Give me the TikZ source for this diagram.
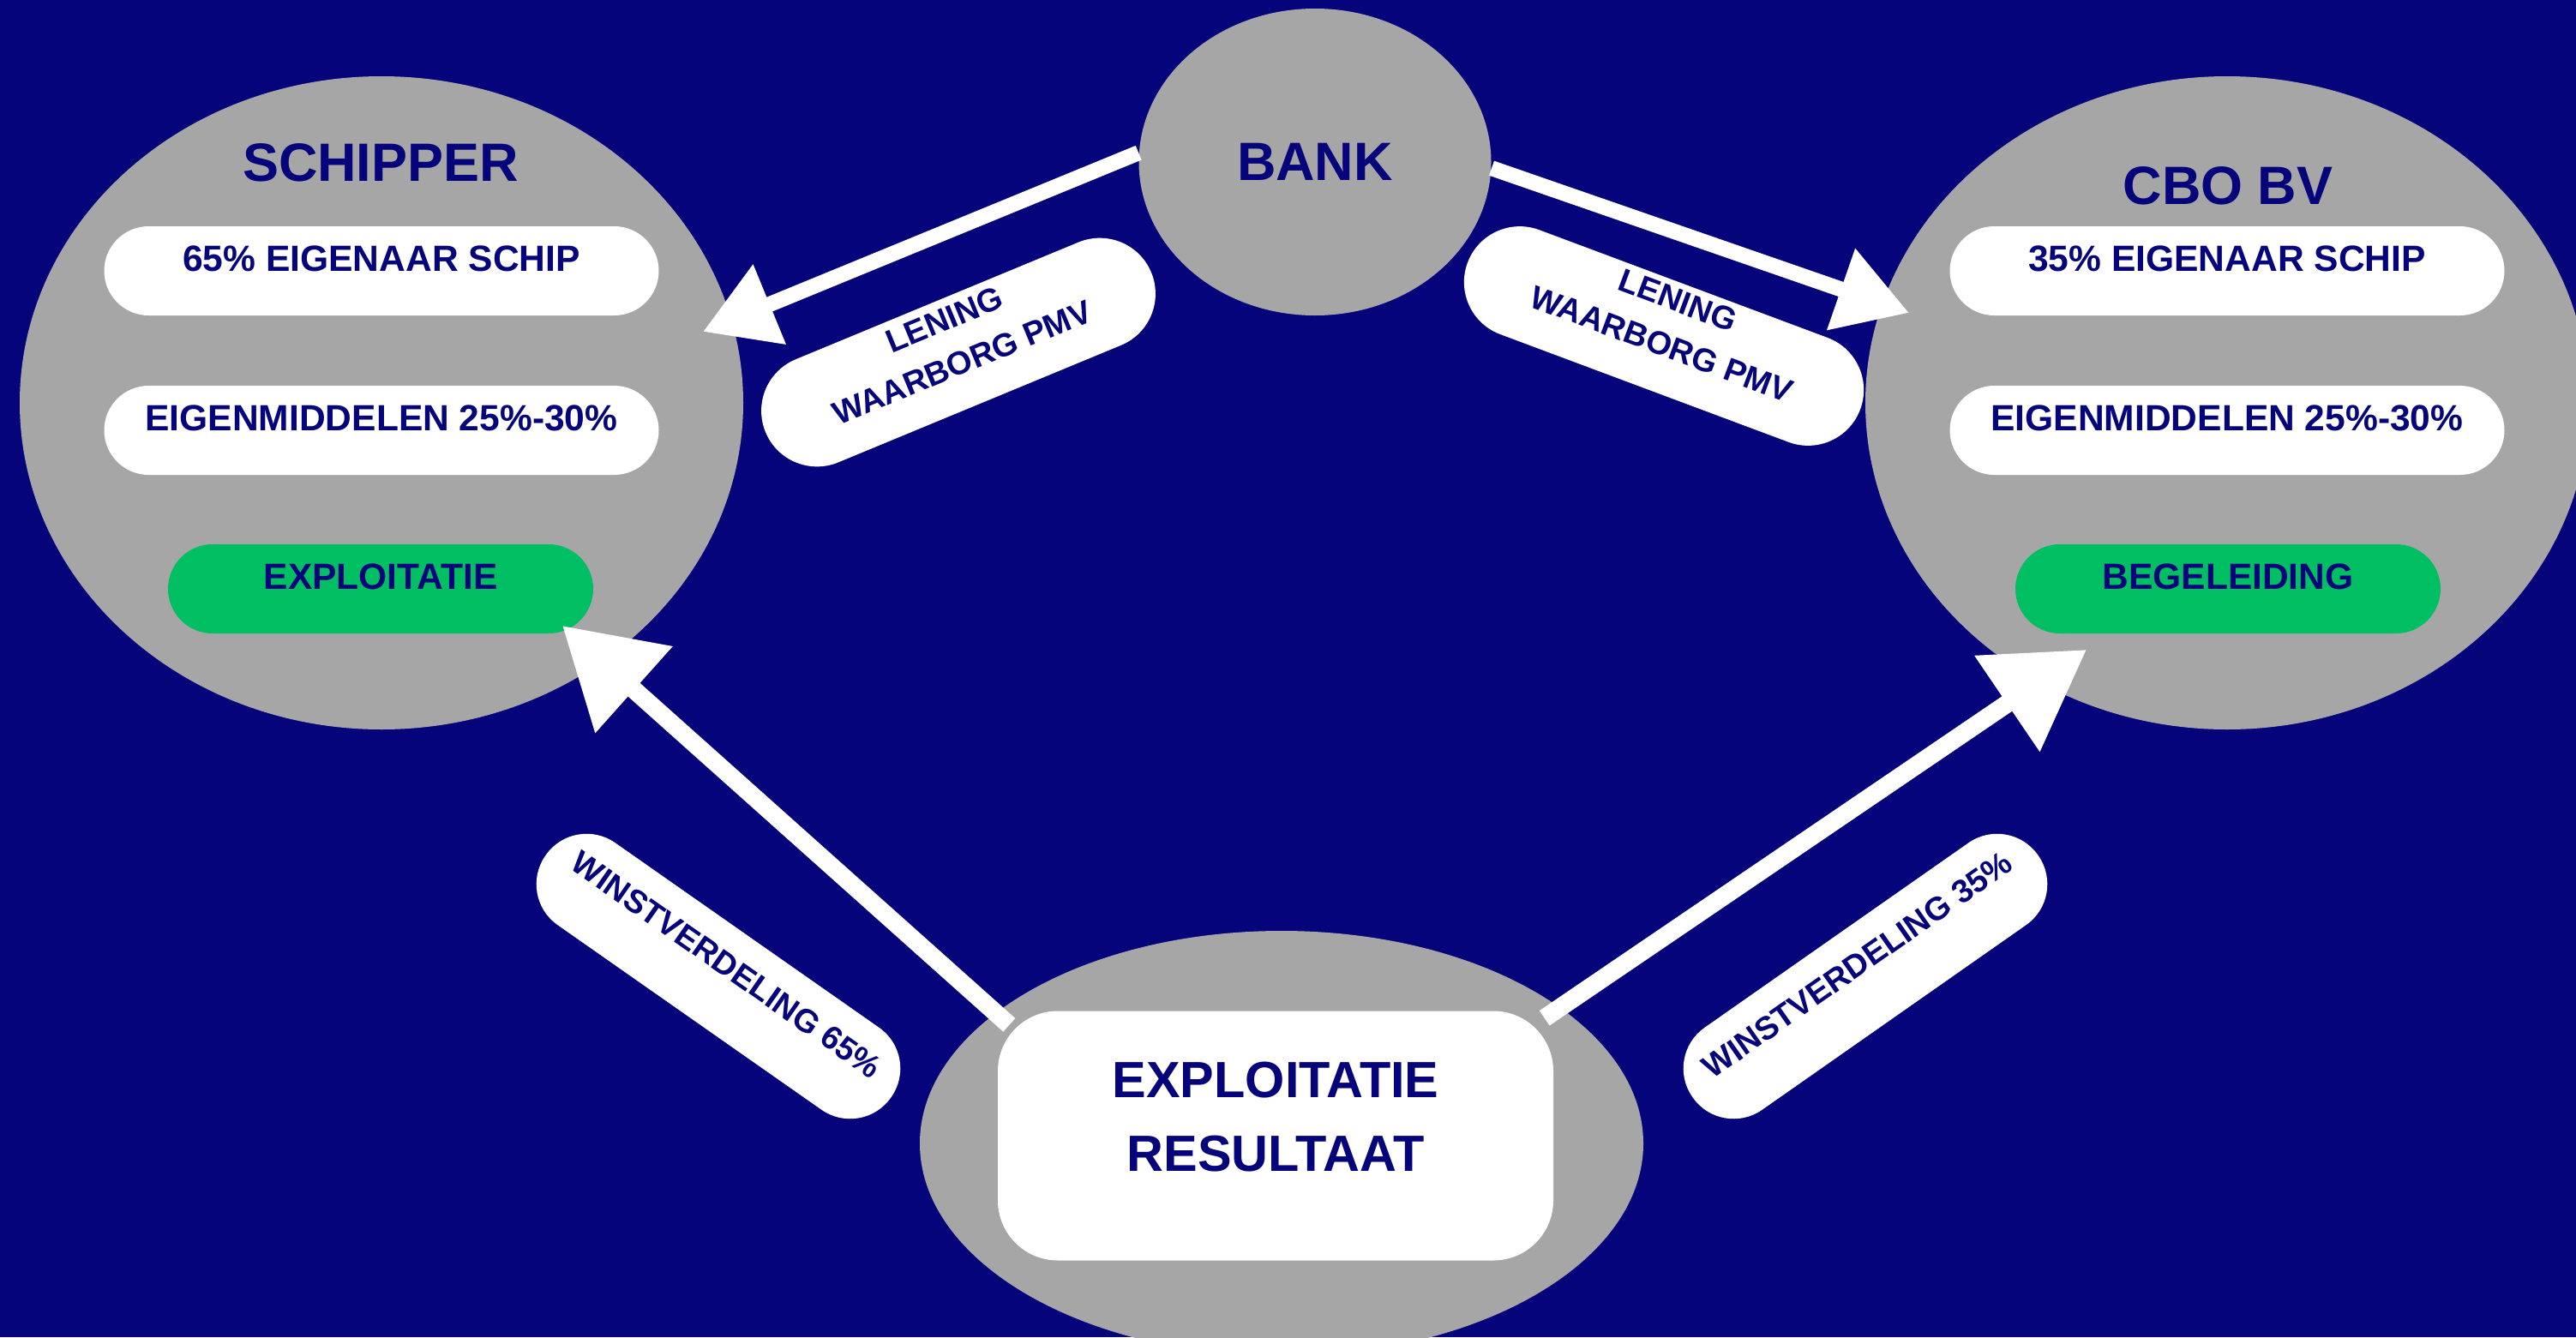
\documentclass[tikz,border=0pt]{standalone}
\usepackage{fontspec}
\setmainfont{Liberation Sans}
\usetikzlibrary{shapes.geometric,arrows.meta}

\newlength{\du}
\setlength{\du}{0.01cm}

\definecolor{bgnavy}{RGB}{5,4,123}
\definecolor{blobgray}{RGB}{166,166,166}
\definecolor{okgreen}{RGB}{0,191,99}

\tikzset{
  blob/.style={ellipse, fill=blobgray, inner sep=0pt, minimum width=844\du, minimum height=762\du},
  title/.style={text=bgnavy, font=\bfseries\fontsize{17.9}{21}\selectfont},
  rowbox/.style={rectangle, fill=white, rounded corners=52\du, inner sep=0pt,
    minimum width=647\du, minimum height=104\du, text height=25\du, text depth=25\du,
    text=bgnavy, font=\bfseries\fontsize{12.1}{14}\selectfont},
  greenbox/.style={rowbox, fill=okgreen, minimum width=496\du},
  pill/.style={rectangle, fill=white, inner sep=0pt},
  pilltext/.style={text=bgnavy, inner sep=0pt, align=center, font=\bfseries\fontsize{10.8}{15.4}\selectfont},
  flow/.style={draw=white, line width=18\du, -{Triangle[length=0.84cm,width=0.96cm]}},
  bigflow/.style={draw=white, line width=21\du, -{Triangle[length=1.12cm,width=1.30cm]}}
}

\begin{document}
\begin{tikzpicture}
\useasboundingbox (0,0) rectangle (3005\du,-1560\du);
\fill[bgnavy] (0,0) rectangle (3005\du,-1560\du);

% the four parties
\node[blob] (schipper) at (445\du,-470\du) {};
\node[blob] (cbo) at (2598\du,-470\du) {};
\node[blob, title, minimum width=411\du, minimum height=358\du] (bank) at (1534\du,-189\du) {BANK};
\node[blob, minimum height=496\du] (result) at (1495\du,-1334\du) {};

\node[title] (schippertitle) at (444\du,-190\du) {SCHIPPER};
\node[title] (cbotitle) at (2599\du,-217\du) {CBO BV};

\node[rowbox] (ownS) at (445\du,-316\du) {65\% EIGENAAR SCHIP};
\node[rowbox] (eigenS) at (445\du,-502\du) {EIGENMIDDELEN 25\%-30\%};
\node[greenbox] (exploitS) at (444\du,-687\du) {EXPLOITATIE};

\node[rowbox] (ownC) at (2598\du,-316\du) {35\% EIGENAAR SCHIP};
\node[rowbox] (eigenC) at (2598\du,-502\du) {EIGENMIDDELEN 25\%-30\%};
\node[greenbox] (begelC) at (2599\du,-687\du) {BEGELEIDING};

\node[rectangle, fill=white, rounded corners=70\du, minimum width=648\du, minimum height=291\du] (resbox) at (1488\du,-1325\du) {};
\node[title, align=center, inner sep=0pt, font=\bfseries\fontsize{16.9}{24.2}\selectfont] (restitle) at (1488\du,-1303\du) {EXPLOITATIE\\RESULTAAT};

% labels on the flows
\node[pill, rounded corners=65\du, minimum width=487\du, minimum height=130\du, rotate=22.5] (lenS) at (1118\du,-411\du) {};
\node[pilltext, rotate=22.5] (lenStext) at (1112\du,-398\du) {LENING\\WAARBORG PMV};
\node[pill, rounded corners=65\du, minimum width=489\du, minimum height=130\du, rotate=-20.5] (lenC) at (1941\du,-392\du) {};
\node[pilltext, rotate=-20.5] (lenCtext) at (1948\du,-376\du) {LENING\\WAARBORG PMV};

\node[pill, pilltext, rounded corners=58\du, minimum width=492\du, minimum height=117\du,
  text height=20\du, text depth=27\du, rotate=-35] (winS) at (838\du,-1139\du) {WINSTVERDELING 65\%};
\node[pill, pilltext, rounded corners=58\du, minimum width=492\du, minimum height=117\du,
  text height=20\du, text depth=27\du, rotate=35] (winC) at (2176\du,-1139\du) {WINSTVERDELING 35\%};

% arrows
\coordinate (tipS) at (820\du,-387\du);
\coordinate (tipC) at (2227\du,-365\du);
\coordinate (tipExpl) at (656\du,-730\du);
\coordinate (tipBeg) at (2434\du,-758\du);
\draw[flow] (bank.177) -- (tipS);
\draw[flow] (bank.358) -- (tipC);
\draw[bigflow] ([shift={(14\du,-17\du)}]resbox.north west) -- (tipExpl);
\draw[bigflow] ([shift={(-11\du,-9\du)}]resbox.north east) -- (tipBeg);
\end{tikzpicture}
\end{document}
